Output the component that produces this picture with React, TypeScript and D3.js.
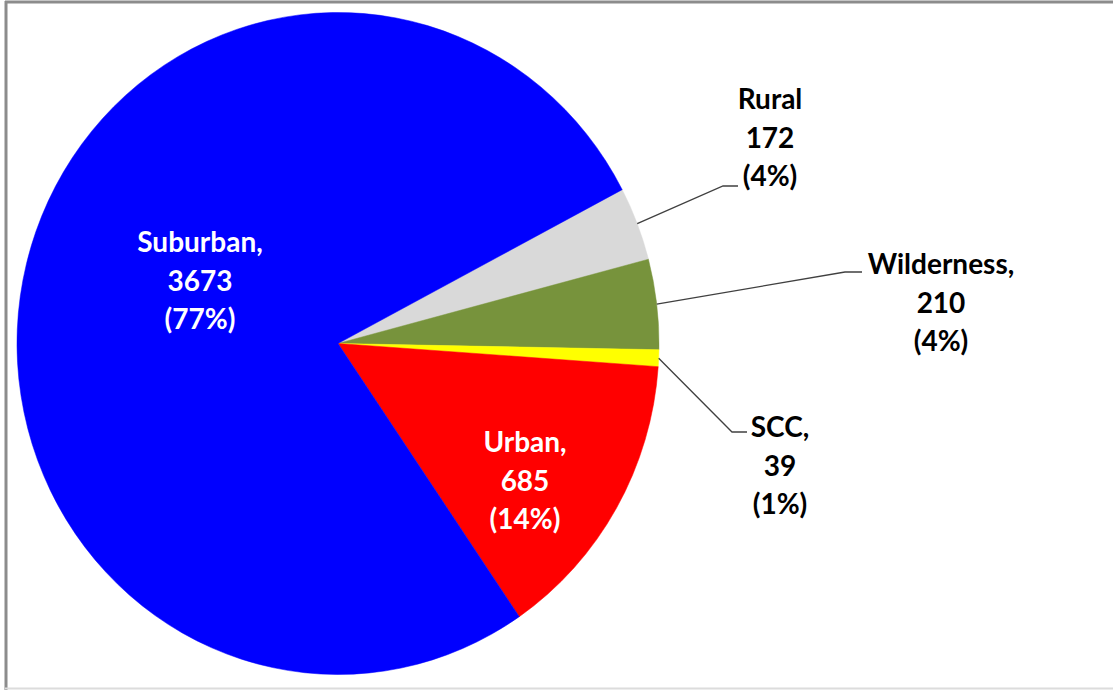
import React, { useEffect, useRef } from 'react'
import * as d3 from 'd3'

const categories = ['Rural', 'Wilderness', 'SCC', 'Urban', 'Suburban']
const counts = [172, 210, 39, 685, 3673]
const percents = ['4%', '4%', '1%', '14%', '77%']
const sliceColors = ['#d9d9d9', '#77933c', '#ffff00', '#ff0000', '#0000ff']

// label placement (center of text block, first line baseline) and leader elbow
const labelPos: { [k: string]: { x: number; y: number; white?: boolean; comma: boolean; elbow?: [number, number]; end?: number } } = {
  Rural: { x: 770, y: 109, comma: false, elbow: [723, 186], end: 738 },
  Wilderness: { x: 941, y: 274, comma: true, elbow: [845, 272], end: 862 },
  SCC: { x: 780, y: 437, comma: true, elbow: [732, 432], end: 747 },
  Urban: { x: 525, y: 452, comma: true, white: true },
  Suburban: { x: 200, y: 252, comma: true, white: true },
}

function drawPie(el: SVGSVGElement) {
  const svg = d3.select(el)
  svg.selectAll('*').remove()
  const W = 1113, H = 690
  const cx = 338, cy = 343.5, r = 321
  const sy = 331 / 321 // the picture is stretched a bit vertically

  // chart frame
  svg.append('rect').attr('x', 0).attr('y', 0).attr('width', W).attr('height', H).attr('fill', '#fff')
  svg.append('line').attr('x1', 5).attr('x2', W).attr('y1', 2).attr('y2', 2).attr('stroke', '#8c8c8c').attr('stroke-width', 3)
  svg.append('line').attr('x1', 6).attr('x2', 6).attr('y1', 1).attr('y2', H).attr('stroke', '#8c8c8c').attr('stroke-width', 3)
  svg.append('line').attr('x1', 5).attr('x2', W).attr('y1', 688.5).attr('y2', 688.5).attr('stroke', '#dcdcdc').attr('stroke-width', 2)

  const data = categories.map((c, i) => ({ name: c, value: counts[i], pct: percents[i], color: sliceColors[i] }))
  const start = (62.3 * Math.PI) / 180
  const pie = d3.pie<any>().value(d => d.value).sort(null).startAngle(start).endAngle(start + 2 * Math.PI)
  const arcs = pie(data)
  const arc = d3.arc<any>().innerRadius(0).outerRadius(r)
  const edge = d3.arc<any>().innerRadius(r).outerRadius(r)

  const g = svg.append('g').attr('transform', `translate(${cx},${cy}) scale(1,${sy})`)
  g.selectAll('path.slice').data(arcs).join('path')
    .attr('class', 'slice')
    .attr('d', arc)
    .attr('fill', d => d.data.color)
    .attr('stroke', d => d.data.color)
    .attr('stroke-width', 0.5)

  // leader lines
  arcs.forEach(a => {
    const lp = labelPos[a.data.name]
    if (!lp.elbow) return
    const [px, py] = edge.centroid(a)
    svg.append('polyline')
      .attr('points', `${cx + px},${cy + py * sy} ${lp.elbow[0]},${lp.elbow[1]} ${lp.end},${lp.elbow[1]}`)
      .attr('fill', 'none')
      .attr('stroke', '#404040')
      .attr('stroke-width', 1.3)
  })

  // labels
  arcs.forEach(a => {
    const lp = labelPos[a.data.name]
    const lines = [a.data.name + (lp.comma ? ',' : ''), String(a.data.value), `(${a.data.pct})`]
    const t = svg.append('text')
      .attr('text-anchor', 'middle')
      .attr('font-family', 'Lato, "Open Sans", sans-serif')
      .attr('font-weight', 'bold')
      .attr('font-size', 28)
      .attr('fill', lp.white ? '#ffffff' : '#000000')
    lines.forEach((s, i) => {
      t.append('tspan').attr('x', lp.x).attr('y', lp.y + i * 38.5).text(s)
    })
  })
}

export default function App() {
  const ref = useRef<SVGSVGElement>(null)
  useEffect(() => {
    document.body.style.margin = '0'
    if (ref.current) drawPie(ref.current)
  })
  return (
    <div className="PieChart">
      <svg ref={ref} width={1113} height={690} style={{ display: 'block' }}></svg>
    </div>
  )
}
